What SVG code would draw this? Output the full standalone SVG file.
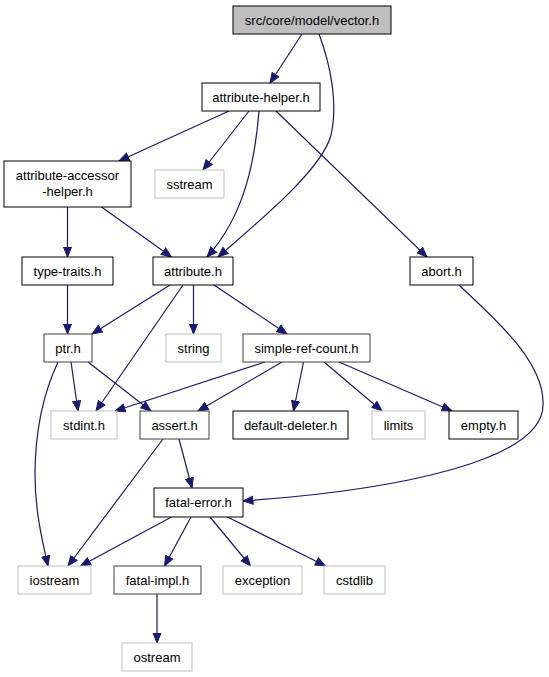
<svg xmlns="http://www.w3.org/2000/svg" width="549" height="677" viewBox="0 0 549 677">
<style>
rect{fill:#fff;stroke:#000;stroke-width:1}
rect.root{fill:#bfbfbf}
rect.dk{stroke:#404040}
rect.sys{stroke:#bfbfbf}
text{font-family:"Liberation Sans",Arial,sans-serif;font-size:13px;fill:#000;text-anchor:middle}
#edges path{fill:none;stroke:#191970;stroke-width:1.2;marker-end:url(#ah)}
</style>
<defs>
<marker id="ah" markerUnits="userSpaceOnUse" markerWidth="12" markerHeight="10" refX="10.5" refY="4.5" orient="auto" viewBox="0 0 12 9">
<path d="M0.5,0.5 L10.5,4.5 L0.5,8.5 z" fill="#191970" stroke="#191970" stroke-width="1"/>
</marker>
</defs>
<rect x="0" y="0" width="549" height="677" style="fill:#fff;stroke:none"/>
<g id="edges">
<path d="M302,34 L270,83"/>
<path d="M319,34 C331,66 338,104 331,135 C322,170 258,222 218,257"/>
<path d="M229,111 L119,161"/>
<path d="M249,111 L203,170"/>
<path d="M259,111 C255,160 245,215 207,257"/>
<path d="M276,111 L427,257"/>
<path d="M67.5,207 L67.5,257"/>
<path d="M101.5,207 L171.5,257"/>
<path d="M67.5,285 L67.5,334"/>
<path d="M170,285 L92,334"/>
<path d="M183,285 L96,411"/>
<path d="M193.5,285 L193.5,334"/>
<path d="M214,285 L287,334"/>
<path d="M71,362 L78,411"/>
<path d="M88,362 L151,411"/>
<path d="M58,362 C44,392 35,430 35,475 C35,510 42,540 48,566"/>
<path d="M265,362 L115,411"/>
<path d="M282,362 L198,411"/>
<path d="M303.5,362 L293.5,411"/>
<path d="M324,362 L382,411"/>
<path d="M339,362 L452,411"/>
<path d="M179,439 L192,488"/>
<path d="M163,439 L68,566"/>
<path d="M459,285 C490,315 545,360 543,405 C543,460 400,490 243,501"/>
<path d="M171.5,517 L80.5,566"/>
<path d="M191,517 L164.5,566"/>
<path d="M210,517 L250.5,566"/>
<path d="M227.5,517 L325.5,566"/>
<path d="M157,594 L157,643"/>
</g>
<g id="vector_h"><rect class="root" x="233" y="6" width="158" height="28"/><text x="312" y="24.5">src/core/model/vector.h</text></g>
<g id="attribute_helper_h"><rect x="202" y="83" width="118" height="28"/><text x="261" y="101.5">attribute-helper.h</text></g>
<g id="attribute_accessor_helper_h"><rect x="4" y="161" width="127" height="46"/><text x="67.5" y="180">attribute-accessor</text><text x="67.5" y="195.5">-helper.h</text></g>
<g id="sstream"><rect class="sys" x="155" y="170" width="69" height="28"/><text x="189.5" y="188.5">sstream</text></g>
<g id="type_traits_h"><rect x="22" y="257" width="91" height="28"/><text x="67.5" y="275.5">type-traits.h</text></g>
<g id="attribute_h"><rect x="153" y="257" width="80" height="28"/><text x="193" y="275.5">attribute.h</text></g>
<g id="abort_h"><rect x="410" y="257" width="63" height="28"/><text x="441.5" y="275.5">abort.h</text></g>
<g id="ptr_h"><rect class="dk" x="44" y="334" width="48" height="28"/><text x="68" y="352.5">ptr.h</text></g>
<g id="string"><rect class="sys" x="166" y="334" width="55" height="28"/><text x="193.5" y="352.5">string</text></g>
<g id="simple_ref_count_h"><rect class="dk" x="243" y="334" width="127" height="28"/><text x="306.5" y="352.5">simple-ref-count.h</text></g>
<g id="stdint_h"><rect class="sys" x="51" y="411" width="66" height="28"/><text x="84" y="429.5">stdint.h</text></g>
<g id="assert_h"><rect class="dk" x="140" y="411" width="69" height="28"/><text x="174.5" y="429.5">assert.h</text></g>
<g id="default_deleter_h"><rect x="233" y="411" width="115" height="28"/><text x="290.5" y="429.5">default-deleter.h</text></g>
<g id="limits"><rect class="sys" x="372" y="411" width="53" height="28"/><text x="398.5" y="429.5">limits</text></g>
<g id="empty_h"><rect x="449" y="411" width="69" height="28"/><text x="483.5" y="429.5">empty.h</text></g>
<g id="fatal_error_h"><rect x="154" y="488" width="89" height="29"/><text x="198.5" y="507">fatal-error.h</text></g>
<g id="iostream"><rect class="sys" x="18" y="566" width="73" height="28"/><text x="54.5" y="584.5">iostream</text></g>
<g id="fatal_impl_h"><rect class="dk" x="114" y="566" width="87" height="28"/><text x="157.5" y="584.5">fatal-impl.h</text></g>
<g id="exception"><rect class="sys" x="223" y="566" width="79" height="28"/><text x="262.5" y="584.5">exception</text></g>
<g id="cstdlib"><rect class="sys" x="324" y="566" width="61" height="28"/><text x="354.5" y="584.5">cstdlib</text></g>
<g id="ostream"><rect class="sys" x="122" y="643" width="70" height="28"/><text x="157" y="661.5">ostream</text></g>
</svg>
